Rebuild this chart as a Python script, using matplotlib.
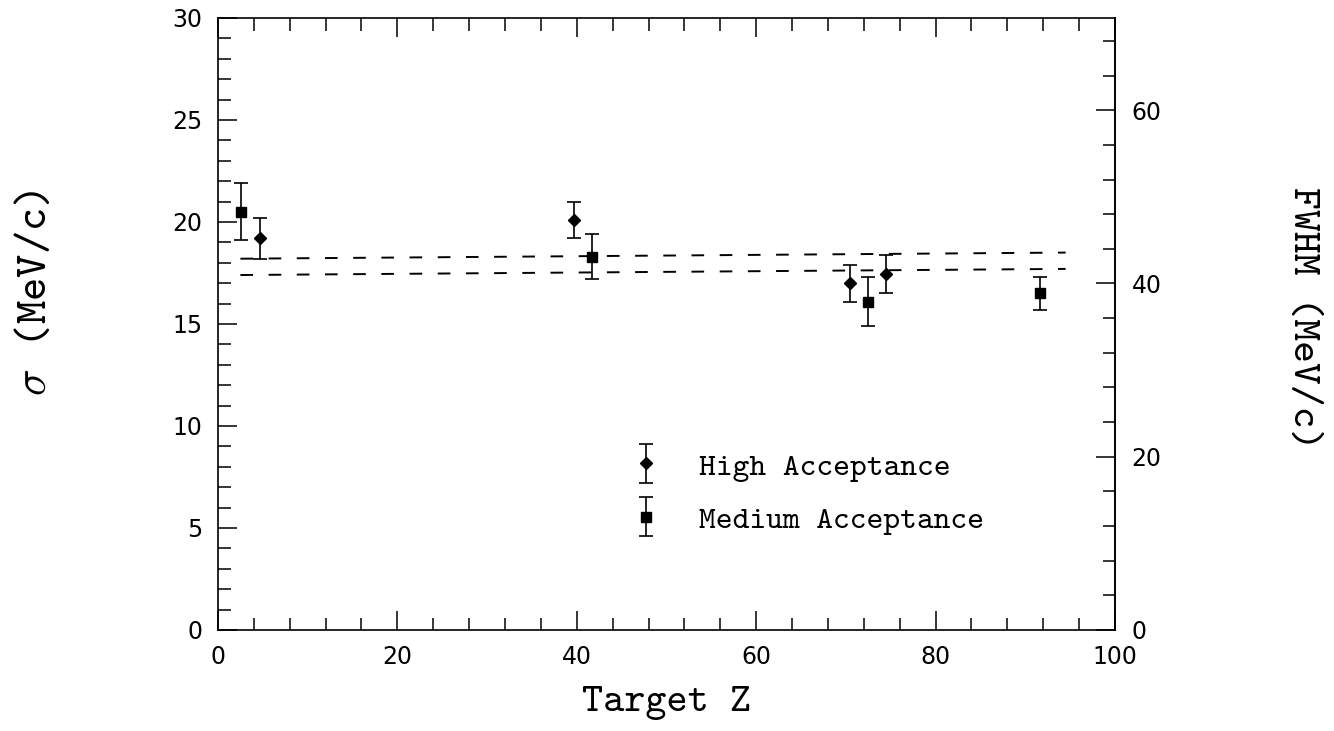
import numpy as np
import matplotlib.pyplot as plt
from matplotlib.ticker import MultipleLocator, FixedLocator
from matplotlib.legend_handler import HandlerErrorbar

# sigma of the momentum distribution vs target Z
high_z = [4.7, 39.7, 70.5, 74.5]
high_sig = [19.2, 20.1, 17.0, 17.45]
high_err = [1.0, 0.9, 0.9, 0.95]

med_z = [2.6, 41.7, 72.5, 91.6]
med_sig = [20.5, 18.3, 16.1, 16.5]
med_err = [1.4, 1.1, 1.2, 0.8]

# the two dashed fit lines
fit_z = [2.5, 94.5]
fit_upper = [18.2, 18.5]
fit_lower = [17.4, 17.7]

fwhm_ticks = [0, 20, 40, 60]
FWHM = 2.355
tt = 'cmtt10'   # typewriter face close to the original
plt.rcParams['mathtext.fontset'] = 'cm'

fig = plt.figure(figsize=(13.34, 7.31), dpi=100)
ax = fig.add_axes([0.1634, 0.1382, 0.6724, 0.8372])

eh = ax.errorbar(high_z, high_sig, yerr=high_err, fmt='D', ms=6.3, color='black',
                 ecolor='black', elinewidth=1.2, capsize=5, capthick=1.2)
em = ax.errorbar(med_z, med_sig, yerr=med_err, fmt='s', ms=7.8, color='black',
                 ecolor='black', elinewidth=1.2, capsize=5, capthick=1.2)

ax.plot(fit_z, fit_upper, color='black', lw=1.4, linestyle=(0, (6.5, 8)))
ax.plot(fit_z, fit_lower, color='black', lw=1.4, linestyle=(0, (6.5, 8)))

ax.set_xlim(0, 100)
ax.set_ylim(0, 30)
ax.xaxis.set_major_locator(MultipleLocator(20))
ax.xaxis.set_minor_locator(MultipleLocator(4))
ax.yaxis.set_major_locator(MultipleLocator(5))
ax.yaxis.set_minor_locator(MultipleLocator(1))
ax.tick_params(which='both', direction='in', top=True, right=False, width=1.1)
ax.tick_params(which='major', length=14, labelsize=17, pad=11)
ax.tick_params(which='minor', length=9)
for s in ax.spines.values():
    s.set_linewidth(1.2)

sec = ax.secondary_yaxis('right', functions=(lambda s: s * FWHM, lambda f: f / FWHM))
sec.yaxis.set_major_locator(FixedLocator(fwhm_ticks))
sec.yaxis.set_minor_locator(MultipleLocator(4))
sec.tick_params(which='both', direction='in', width=1.1)
sec.tick_params(which='major', length=14, labelsize=17, pad=12)
sec.tick_params(which='minor', length=9)
sec.spines['right'].set_linewidth(1.2)

ax.set_xlabel('Target Z', fontsize=29, family=tt, labelpad=12)
fig.text(0.027, 0.599, r'$\sigma$ (MeV/c)', rotation=90, fontsize=32, family=tt,
         ha='center', va='center')
fig.text(0.976, 0.565, 'FWHM (MeV/c)', rotation=-90, fontsize=30, family=tt,
         ha='center', va='center')

leg = ax.legend([eh, em], ['High Acceptance', 'Medium Acceptance'],
                loc='center left', bbox_to_anchor=(0.461, 0.223), frameon=False,
                prop={'family': tt, 'size': 23}, handlelength=0.9,
                handletextpad=1.2, labelspacing=0.75, borderpad=0, borderaxespad=0,
                handler_map={type(eh): HandlerErrorbar(yerr_size=0.6)})

fig.savefig('out.png', dpi=100)
